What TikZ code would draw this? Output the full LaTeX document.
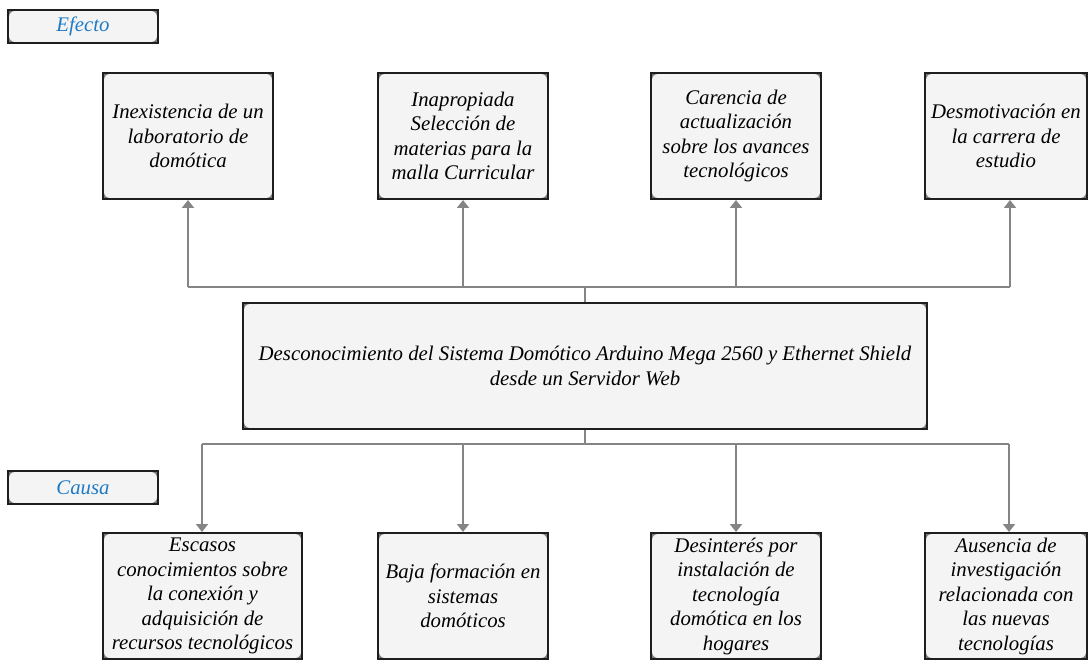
\documentclass[tikz,border=0pt]{standalone}
\usepackage{fontspec}
\setmainfont{Liberation Serif}
\usetikzlibrary{arrows.meta}
\definecolor{boxfill}{HTML}{F4F4F4}
\definecolor{boxline}{HTML}{1E1E1E}
\definecolor{cornergray}{HTML}{7A7A7A}
\definecolor{conn}{HTML}{858585}
\definecolor{lblblue}{HTML}{1F7BC6}
\tikzset{
  box/.style={draw=boxline, line width=2pt, fill=cornergray, inner sep=0pt,
    align=center, font=\itshape\fontsize{20.8}{24.5}\selectfont,
    path picture={\fill[boxfill, rounded corners=6pt]
      ([shift={(1pt,-1pt)}]path picture bounding box.north west) rectangle
      ([shift={(-1pt,1pt)}]path picture bounding box.south east);}},
  lbl/.style={box, text=lblblue, minimum width=150pt, minimum height=33pt},
  conn/.style={draw=conn, line width=2.4pt},
  arr/.style={conn, -{Triangle[width=12pt,length=8pt]}}
}
\begin{document}
\begin{tikzpicture}[x=1pt,y=-1pt]
\useasboundingbox (0,0) rectangle (1091,660);
\clip (0,0) rectangle (1091,660);

% labels
\node[lbl] (efecto) at (83,26.5) {Efecto};
\node[lbl] (causa) at (83,487.5) {Causa};

% top boxes (effects)
\node[box, minimum width=170pt, minimum height=126pt] (t1) at (188,136)
  {Inexistencia de un\\laboratorio de\\domótica};
\node[box, minimum width=170pt, minimum height=126pt] (t2) at (463,136)
  {Inapropiada\\Selección de\\materias para la\\malla Curricular};
\node[box, minimum width=170pt, minimum height=126pt] (t3) at (736,136)
  {Carencia de\\actualización\\sobre los avances\\tecnológicos};
\node[box, minimum width=162pt, minimum height=126pt] (t4) at (1006,136)
  {Desmotivación en\\la carrera de\\estudio};

% central problem
\node[box, minimum width=684pt, minimum height=126pt] (c) at (585,366)
  {Desconocimiento del Sistema Domótico Arduino Mega 2560 y Ethernet Shield\\desde un Servidor Web};

% bottom boxes (causes)
\node[box, minimum width=199pt, minimum height=126pt] (b1) at (202.5,596)
  {Escasos\\conocimientos sobre\\la conexión y\\adquisición de\\recursos tecnológicos};
\node[box, minimum width=170pt, minimum height=126pt] (b2) at (463,596)
  {Baja formación en\\sistemas\\domóticos};
\node[box, minimum width=170pt, minimum height=126pt] (b3) at (736,596)
  {Desinterés por\\instalación de\\tecnología\\domótica en los\\hogares};
\node[box, minimum width=162pt, minimum height=126pt] (b4) at (1006,596)
  {Ausencia de\\investigación\\relacionada con\\las nuevas\\tecnologías};

% top bus
\coordinate (u1) at (188,287);
\coordinate (u2) at (463,287);
\coordinate (u3) at (736,287);
\coordinate (u4) at (1010,287);
\draw[conn] (c.north) -- (c.north |- u1);
\draw[conn] (u1) -- (u4);
\draw[arr] (u1) -- (u1 |- t1.south);
\draw[arr] (u2) -- (u2 |- t2.south);
\draw[arr] (u3) -- (u3 |- t3.south);
\draw[arr] (u4) -- (u4 |- t4.south);

% bottom bus
\coordinate (d1) at (202,444);
\coordinate (d2) at (463,444);
\coordinate (d3) at (736,444);
\coordinate (d4) at (1009,444);
\draw[conn] (c.south) -- (c.south |- d1);
\draw[conn] (d1) -- (d4);
\draw[arr] (d1) -- (d1 |- b1.north);
\draw[arr] (d2) -- (d2 |- b2.north);
\draw[arr] (d3) -- (d3 |- b3.north);
\draw[arr] (d4) -- (d4 |- b4.north);
\end{tikzpicture}
\end{document}
